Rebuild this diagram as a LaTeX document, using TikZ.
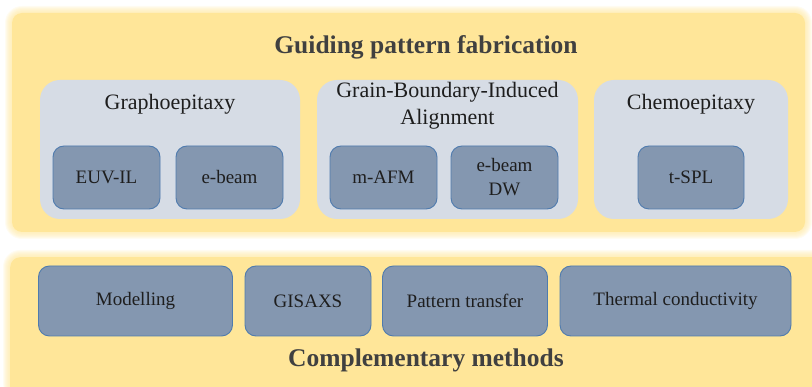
\documentclass[tikz,border=0pt]{standalone}
\usepackage{fontspec}
\setmainfont{LiberationSerif}[Extension=.ttf, UprightFont=*-Regular, BoldFont=*-Bold]
\definecolor{panelfill}{HTML}{FFE699}
\definecolor{groupfill}{HTML}{D6DCE5}
\definecolor{boxfill}{HTML}{8497B0}
\definecolor{boxline}{HTML}{4F7BAE}
\definecolor{titletext}{HTML}{404040}
\definecolor{bodytext}{HTML}{1E1E1E}
\begin{document}
\begin{tikzpicture}[x=1pt,y=-1pt,
  panel/.style={fill=panelfill, rounded corners=10pt, inner sep=0pt},
  glow/.style={fill=panelfill, opacity=0.13},
  group/.style={fill=groupfill, rounded corners=20pt, inner sep=0pt},
  method/.style={fill=boxfill, draw=boxline, line width=0.9pt, rounded corners=11pt,
    inner sep=0pt, align=center, text=bodytext,
    font=\fontsize{19}{24}\selectfont},
  heading/.style={text=titletext, font=\fontsize{25.5}{30}\selectfont\bfseries},
  grouplabel/.style={text=bodytext, align=center, font=\fontsize{22}{27}\selectfont}]
\useasboundingbox (0,0) rectangle (812,387);
% soft halo round the two yellow panels
\foreach \i in {1,...,7}{
  \fill[glow, rounded corners={10pt+\i pt}] (12-\i,13-\i) rectangle (805+\i,232+\i);
  \fill[glow, rounded corners={10pt+\i pt}] (10-\i,257-\i) rectangle (830,400);
}
% guiding pattern fabrication panel
\node[panel, minimum width=793pt, minimum height=219pt] (fab) at (408.5,122.5) {};
\node[heading] (fabtitle) at (426,47) {Guiding pattern fabrication};
\node[group, minimum width=260pt, minimum height=139pt] (grapho) at (170,149.5) {};
\node[group, minimum width=261pt, minimum height=139pt] (grain) at (447.5,149.5) {};
\node[group, minimum width=194pt, minimum height=139pt] (chemo) at (691,149.5) {};
\node[grouplabel] (graphol) at (170,104) {Graphoepitaxy};
\node[grouplabel] (grainl) at (447.5,106) {Grain-Boundary-Induced\\Alignment};
\node[grouplabel] (chemol) at (691,104) {Chemoepitaxy};
\node[method, minimum width=107pt, minimum height=63pt] (euv) at (106.5,177.5) {EUV-IL};
\node[method, minimum width=107pt, minimum height=63pt] (ebeam) at (229.5,177.5) {e-beam};
\node[method, minimum width=107pt, minimum height=63pt] (mafm) at (383.5,177.5) {m-AFM};
\node[method, minimum width=107pt, minimum height=63pt] (ebdw) at (504.5,177.5) {e-beam\\DW};
\node[method, minimum width=106pt, minimum height=63pt] (tspl) at (691,177.5) {t-SPL};
% complementary methods panel
\node[panel, minimum width=820pt, minimum height=150pt, anchor=north west] (comp) at (10,257) {};
\node[method, minimum width=194pt, minimum height=70pt] (model) at (135.5,301) {Modelling};
\node[method, minimum width=126pt, minimum height=70pt] (gisaxs) at (308,301) {GISAXS};
\node[method, minimum width=165pt, minimum height=70pt] (ptrans) at (465,301) {Pattern transfer};
\node[method, minimum width=231pt, minimum height=70pt] (thermal) at (675.5,301) {Thermal conductivity};
\node[heading] (comptitle) at (426,360) {Complementary methods};
\end{tikzpicture}
\end{document}
